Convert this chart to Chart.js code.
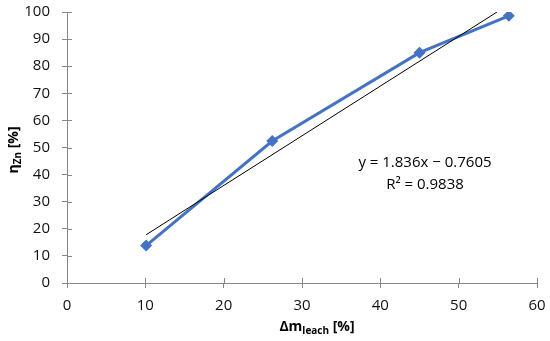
<!DOCTYPE html>
<html>
<head>
<meta charset="utf-8">
<script src="https://cdn.jsdelivr.net/npm/chart.js@4.4.1/dist/chart.umd.min.js"></script>
<style>
  html, body { margin: 0; padding: 0; background: #fff; }
  #wrap { width: 550px; height: 341px; }
</style>
</head>
<body>
<div id="wrap"><canvas id="chart"></canvas></div>
<script>
const massLoss = [10.1, 26.2, 45.0, 56.4];
const zincYield = [13.8, 52.4, 85.0, 98.6];
const trendX = [10.1, 54.9];
const trendY = [17.8, 100.0];
const xTicks = [0, 10, 20, 30, 40, 50, 60];
const yTicks = [0, 10, 20, 30, 40, 50, 60, 70, 80, 90, 100];
const eqLines = ["y = 1.836x \u2212 0.7605", "R\u00b2 = 0.9838"];

const FONT = "'Open Sans', 'Liberation Sans', sans-serif";
const axisGray = "#868686";

function drawSub(ctx, parts, x, y) {
  // parts: [text, isSub] drawn left to right, centered on x
  let total = 0;
  parts.forEach(p => {
    ctx.font = p[1] ? "bold 10px " + FONT : "bold 14px " + FONT;
    total += ctx.measureText(p[0]).width;
  });
  let cx = x - total / 2;
  parts.forEach(p => {
    ctx.font = p[1] ? "bold 10px " + FONT : "bold 14px " + FONT;
    ctx.fillText(p[0], cx, p[1] ? y + 4 : y);
    cx += ctx.measureText(p[0]).width;
  });
}

const extras = {
  id: "extras",
  afterDraw(chart) {
    const ctx = chart.ctx;
    const xs = chart.scales.x, ys = chart.scales.y;
    ctx.save();
    // inner half of the crossing tick marks
    ctx.strokeStyle = axisGray;
    ctx.lineWidth = 1;
    ctx.beginPath();
    xTicks.forEach(v => {
      const px = Math.round(xs.getPixelForValue(v)) + 0.5;
      ctx.moveTo(px, ys.bottom);
      ctx.lineTo(px, ys.bottom - 5);
    });
    yTicks.forEach(v => {
      const py = Math.round(ys.getPixelForValue(v)) + 0.5;
      ctx.moveTo(xs.left, py);
      ctx.lineTo(xs.left + 5, py);
    });
    ctx.stroke();

    ctx.fillStyle = "#000";
    ctx.textBaseline = "middle";
    // equation text
    ctx.font = "15px " + FONT;
    ctx.textAlign = "center";
    ctx.fillText(eqLines[0], xs.getPixelForValue(45.7), ys.getPixelForValue(44.3));
    ctx.fillText(eqLines[1], xs.getPixelForValue(45.7), ys.getPixelForValue(36.2));

    // axis titles with subscripts
    ctx.textAlign = "left";
    drawSub(ctx, [["\u0394m", false], ["leach", true], [" [%]", false]], 317, 327);
    ctx.translate(14, 150);
    ctx.rotate(-Math.PI / 2);
    drawSub(ctx, [["\u03b7", false], ["Zn", true], [" [%]", false]], 0, 0);
    ctx.restore();
  }
};

new Chart(document.getElementById("chart"), {
  type: "scatter",
  data: {
    datasets: [
      {
        data: massLoss.map((x, i) => ({ x: x, y: zincYield[i] })),
        showLine: true,
        borderColor: "#4472C4",
        backgroundColor: "#4472C4",
        borderWidth: 3,
        pointStyle: "rectRot",
        pointRadius: 6,
        pointBorderWidth: 0,
        order: 2
      },
      {
        data: trendX.map((x, i) => ({ x: x, y: trendY[i] })),
        showLine: true,
        borderColor: "#000",
        borderWidth: 1,
        pointRadius: 0,
        order: 1
      }
    ]
  },
  options: {
    responsive: true,
    maintainAspectRatio: false,
    animation: false,
    layout: { padding: { left: 0, right: 13, top: 12, bottom: 0 } },
    plugins: { legend: { display: false }, tooltip: { enabled: false } },
    scales: {
      x: {
        type: "linear",
        min: 0,
        max: 60,
        afterBuildTicks: s => { s.ticks = xTicks.map(v => ({ value: v })); },
        afterFit: s => { s.height = 58; s.paddingLeft = 0; s.paddingRight = 0; },
        grid: { drawOnChartArea: false, tickLength: 5, color: axisGray },
        border: { color: axisGray },
        ticks: { color: "#111", padding: 9, font: { family: FONT, size: 15 } }
      },
      y: {
        type: "linear",
        min: 0,
        max: 100,
        afterBuildTicks: s => { s.ticks = yTicks.map(v => ({ value: v })); },
        afterFit: s => { s.width = 67; s.paddingTop = 0; s.paddingBottom = 0; },
        grid: { drawOnChartArea: false, tickLength: 5, color: axisGray },
        border: { color: axisGray },
        ticks: { color: "#111", padding: 12, font: { family: FONT, size: 15 } }
      }
    }
  },
  plugins: [extras]
});
</script>
</body>
</html>
